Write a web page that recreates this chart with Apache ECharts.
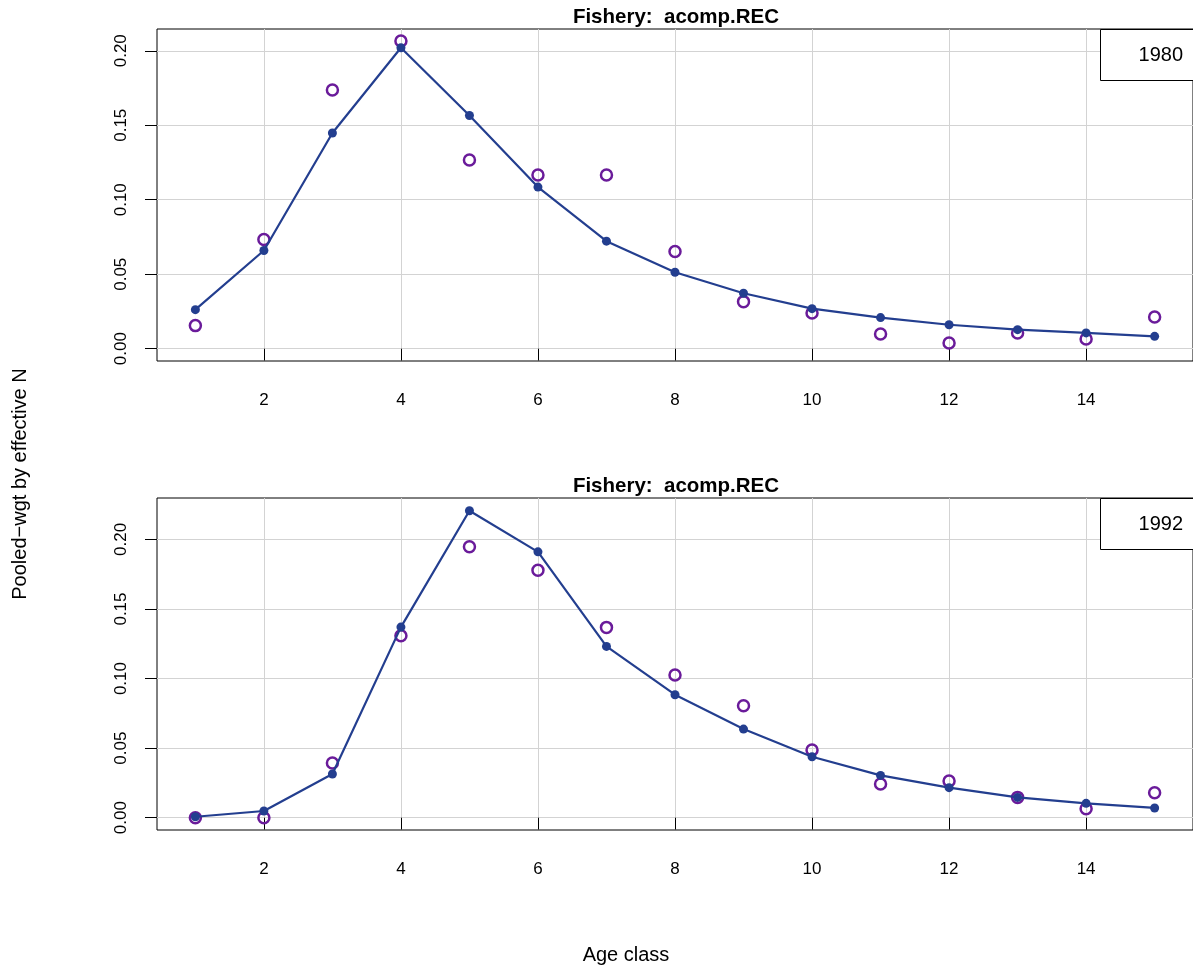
<!DOCTYPE html>
<html>
<head>
<meta charset="utf-8">
<script src="https://cdn.jsdelivr.net/npm/echarts@6/dist/echarts.min.js"></script>
<style>
html,body{margin:0;padding:0;background:#fff;}
#chart{width:1193px;height:972px;}
</style>
</head>
<body>
<div id="chart"></div>
<script>
// ---- data ----
var ages = [1, 2, 3, 4, 5, 6, 7, 8, 9, 10, 11, 12, 13, 14, 15];
var exp1980 = [0.0262, 0.0659, 0.1448, 0.2020, 0.1565, 0.1085, 0.0722, 0.0513, 0.0372, 0.0269, 0.0209, 0.0161, 0.0128, 0.0106, 0.0083];
var obs1980 = [0.0155, 0.0733, 0.1736, 0.2065, 0.1267, 0.1166, 0.1166, 0.0653, 0.0316, 0.0240, 0.0099, 0.0038, 0.0106, 0.0065, 0.0213];
var exp1992 = [0.0007, 0.0048, 0.0314, 0.1370, 0.2206, 0.1911, 0.1231, 0.0884, 0.0637, 0.0438, 0.0304, 0.0216, 0.0146, 0.0103, 0.0070];
var obs1992 = [0.0000, 0.0000, 0.0393, 0.1308, 0.1947, 0.1779, 0.1368, 0.1025, 0.0805, 0.0486, 0.0242, 0.0264, 0.0146, 0.0065, 0.0180];
var xTicks = [2, 4, 6, 8, 10, 12, 14];
var yTicks = [0, 0.05, 0.10, 0.15, 0.20];
var panelTitle = 'Fishery:  acomp.REC';
var years = ['1980', '1992'];
var xTitle = 'Age class';
var yTitle = 'Pooled\u2212wgt by effective N';

function pairs(xs, ys) { return xs.map(function (x, i) { return [x, ys[i]]; }); }

var FONT = '"Liberation Sans", Arial, Helvetica, sans-serif';
var BLUE = '#233E8F';
var PURPLE = '#6A1B9A';
var GRIDC = '#d3d3d3';

var grids = [
  { left: 157, top: 29, width: 1038, height: 332 },
  { left: 157, top: 498, width: 1038, height: 332 }
];
var yRanges = [[-0.00825, 0.2146], [-0.00884, 0.2298]];

function xAxis(gi) {
  return {
    type: 'value', gridIndex: gi, min: 0.44, max: 15.56,
    axisLine: { show: false },
    axisTick: { show: true, customValues: xTicks, length: 12, lineStyle: { color: '#000', width: 1 } },
    axisLabel: { show: true, customValues: xTicks, margin: 31, fontSize: 17, fontFamily: FONT, color: '#000' },
    splitLine: { show: true, lineStyle: { color: GRIDC, width: 1 } }
  };
}
function yAxis(gi) {
  return {
    type: 'value', gridIndex: gi, min: yRanges[gi][0], max: yRanges[gi][1],
    axisLine: { show: false },
    axisTick: { show: true, customValues: yTicks, length: 12, lineStyle: { color: '#000', width: 1 } },
    axisLabel: { show: true, customValues: yTicks, rotate: 90, margin: 27, fontSize: 17, fontFamily: FONT, color: '#000',
      formatter: function (v) { return v.toFixed(2); } },
    splitLine: { show: true, lineStyle: { color: GRIDC, width: 1 } }
  };
}

var expSets = [exp1980, exp1992];
var obsSets = [obs1980, obs1992];
var series = [];
[0, 1].forEach(function (gi) {
  series.push({
    type: 'scatter', xAxisIndex: gi, yAxisIndex: gi, z: 3,
    data: pairs(ages, obsSets[gi]),
    symbol: 'circle', symbolSize: 11,
    itemStyle: { color: 'transparent', borderColor: PURPLE, borderWidth: 2.5, opacity: 1 },
    silent: true
  });
  series.push({
    type: 'line', xAxisIndex: gi, yAxisIndex: gi, z: 4,
    data: pairs(ages, expSets[gi]),
    symbol: 'circle', symbolSize: 9, showSymbol: true,
    lineStyle: { color: BLUE, width: 2.2 },
    itemStyle: { color: BLUE, borderWidth: 0, opacity: 1 },
    silent: true, animation: false
  });
});

var graphics = [];
[0, 1].forEach(function (gi) {
  var top = grids[gi].top;
  graphics.push({ type: 'rect', z: 100, zlevel: 0, shape: { x: 1100.5, y: top + 0.5, width: 100, height: 51 },
    style: { fill: '#ffffff', stroke: '#000', lineWidth: 1 } });
  graphics.push({ type: 'text', z: 101, zlevel: 0, x: 1183, y: top + 26, style: { text: years[gi], fill: '#000', font: '20px ' + FONT,
    textAlign: 'right', textVerticalAlign: 'middle' } });
});
graphics.push({ type: 'text', x: 626, y: 955, style: { text: xTitle, fill: '#000', font: '20px ' + FONT,
  textAlign: 'center', textVerticalAlign: 'middle' } });
graphics.push({ type: 'text', x: 20, y: 484, rotation: Math.PI / 2, style: { text: yTitle, fill: '#000', font: '20px ' + FONT,
  textAlign: 'center', textVerticalAlign: 'middle' } });

var option = {
  animation: false,
  backgroundColor: '#fff',
  title: [0, 1].map(function (gi) {
    return { text: panelTitle, left: 676, top: grids[gi].top - 22, textAlign: 'center', padding: 0,
      textStyle: { fontSize: 20.5, fontWeight: 'bold', fontFamily: FONT, color: '#000' } };
  }),
  grid: grids.map(function (g) {
    return { left: g.left, top: g.top, width: g.width, height: g.height, show: true,
      borderColor: '#000', borderWidth: 1, backgroundColor: 'transparent', containLabel: false };
  }),
  xAxis: [xAxis(0), xAxis(1)],
  yAxis: [yAxis(0), yAxis(1)],
  series: series,
  graphic: graphics
};

var chart = echarts.init(document.getElementById('chart'), null, { renderer: 'canvas' });
chart.setOption(option);
</script>
</body>
</html>
